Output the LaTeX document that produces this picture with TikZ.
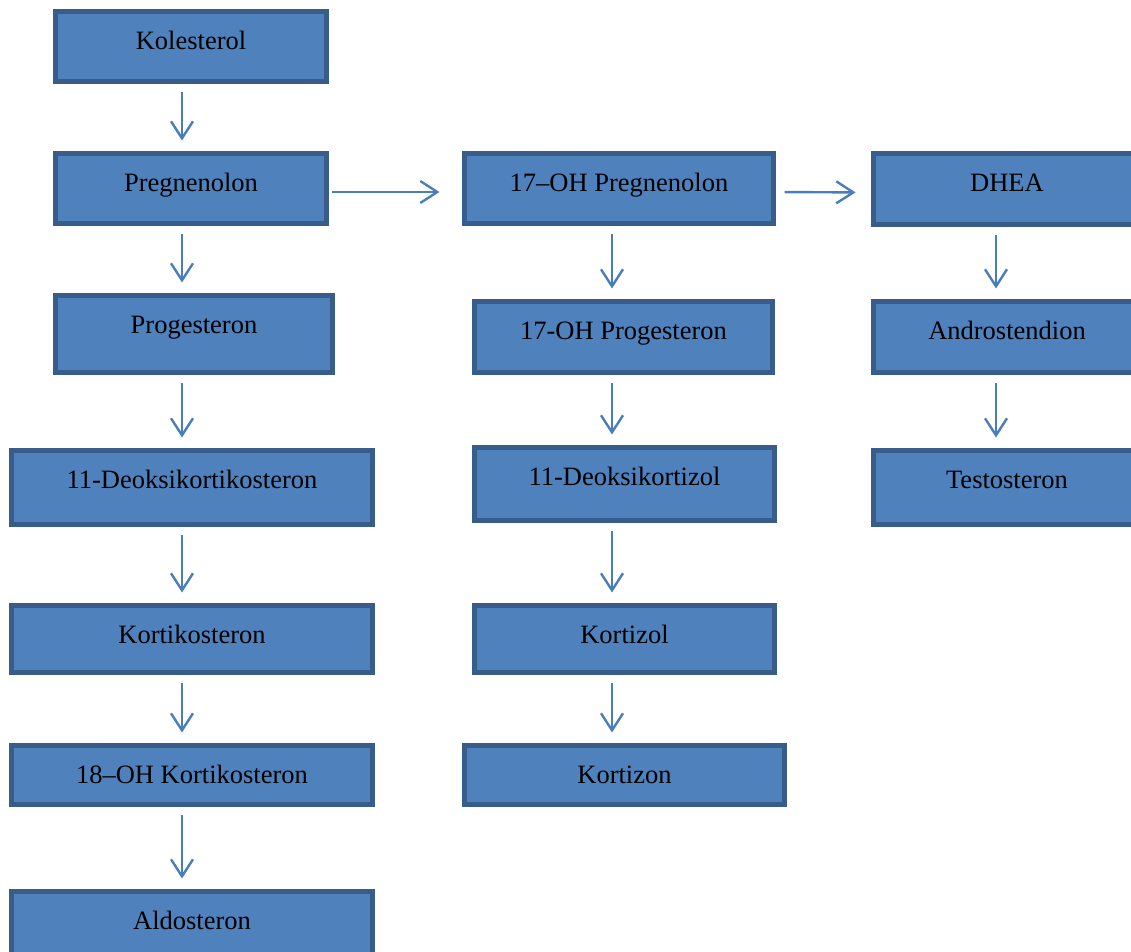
\documentclass[tikz,border=0pt]{standalone}
\usepackage{fontspec}
\setmainfont{Liberation Serif}
\usetikzlibrary{arrows.meta}
\definecolor{boxfill}{HTML}{4F81BD}
\definecolor{boxline}{HTML}{385D8A}
\definecolor{arrowblue}{HTML}{4A7EBB}

\begin{document}
\begin{tikzpicture}[x=1pt,y=-1pt,
      box/.style={draw=boxline,fill=boxfill,line width=5pt,anchor=north west,
                  inner ysep=0pt,text height=37.5pt,
                  font=\fontsize{26.5}{30}\selectfont},
      arr/.style={-{Straight Barb[length=17pt,width=22pt]},draw=arrowblue,
                  line width=2.4pt,shorten <=7.5pt,shorten >=10.5pt}
    ]
    \useasboundingbox (0,0) rectangle (1131,951);
    % Arrow columns
    \coordinate (c1) at (182,0);
    \coordinate (c2) at (612,0);
    \coordinate (c3) at (996,0);
    % Left column
    \node[box,minimum width=271pt,text depth=32.5pt] (kol) at (53,9) {Kolesterol};
    \node[box,minimum width=271pt,text depth=32.5pt] (preg) at (53,151) {Pregnenolon};
    \node[box,minimum width=277pt,text depth=39.5pt] (prog) at (53,293) {Progesteron};
    \node[box,minimum width=361pt,text depth=36.5pt] (dkortik) at (9,448) {11-Deoksikortikosteron};
    \node[box,minimum width=361pt,text depth=29.5pt] (kortik) at (9,603) {Kortikosteron};
    \node[box,minimum width=361pt,text depth=21.5pt] (ohkortik) at (9,743) {18--OH Kortikosteron};
    \node[box,minimum width=361pt,text depth=27.5pt] (aldo) at (9,889) {Aldosteron};
    % Middle column
    \node[box,minimum width=309pt,text depth=32.5pt] (ohpreg) at (462,151) {17--OH Pregnenolon};
    \node[box,minimum width=298pt,text depth=33.5pt] (ohprog) at (472,299) {17-OH Progesteron};
    \node[box,minimum width=300pt,text depth=35.5pt] (dkortiz) at (472,445) {11-Deoksikortizol};
    \node[box,minimum width=300pt,text depth=29.5pt] (kortizol) at (472,603) {Kortizol};
    \node[box,minimum width=320pt,text depth=21.5pt] (kortizon) at (462,743) {Kortizon};
    % Right column
    \node[box,minimum width=267pt,text depth=33.5pt] (dhea) at (871,151) {DHEA};
    \node[box,minimum width=267pt,text depth=33.5pt] (andro) at (871,299) {Androstendion};
    \node[box,minimum width=267pt,text depth=36.5pt] (testo) at (871,448) {Testosteron};
    % Arrows
    \draw[arr] (kol.south -| c1) -- (preg.north -| c1);
    \draw[arr] (preg.south -| c1) -- (prog.north -| c1);
    \draw[arr] (prog.south -| c1) -- (dkortik.north -| c1);
    \draw[arr] (dkortik.south -| c1) -- (kortik.north -| c1);
    \draw[arr] (kortik.south -| c1) -- (ohkortik.north -| c1);
    \draw[arr] (ohkortik.south -| c1) -- (aldo.north -| c1);
    \draw[arr] (ohpreg.south -| c2) -- (ohprog.north -| c2);
    \draw[arr] (ohprog.south -| c2) -- (dkortiz.north -| c2);
    \draw[arr] (dkortiz.south -| c2) -- (kortizol.north -| c2);
    \draw[arr] (kortizol.south -| c2) -- (kortizon.north -| c2);
    \draw[arr] (dhea.south -| c3) -- (andro.north -| c3);
    \draw[arr] (andro.south -| c3) -- (testo.north -| c3);
    \draw[arr,shorten <=2.5pt,shorten >=22.5pt] ([yshift=-3.5pt]preg.east) -- ([yshift=-3.5pt]ohpreg.west);
    \draw[arr,shorten <=8.5pt,shorten >=15.5pt] ([yshift=-3.5pt]ohpreg.east) -- ([yshift=-3.5pt]dhea.west);
  \end{tikzpicture}
\end{document}
